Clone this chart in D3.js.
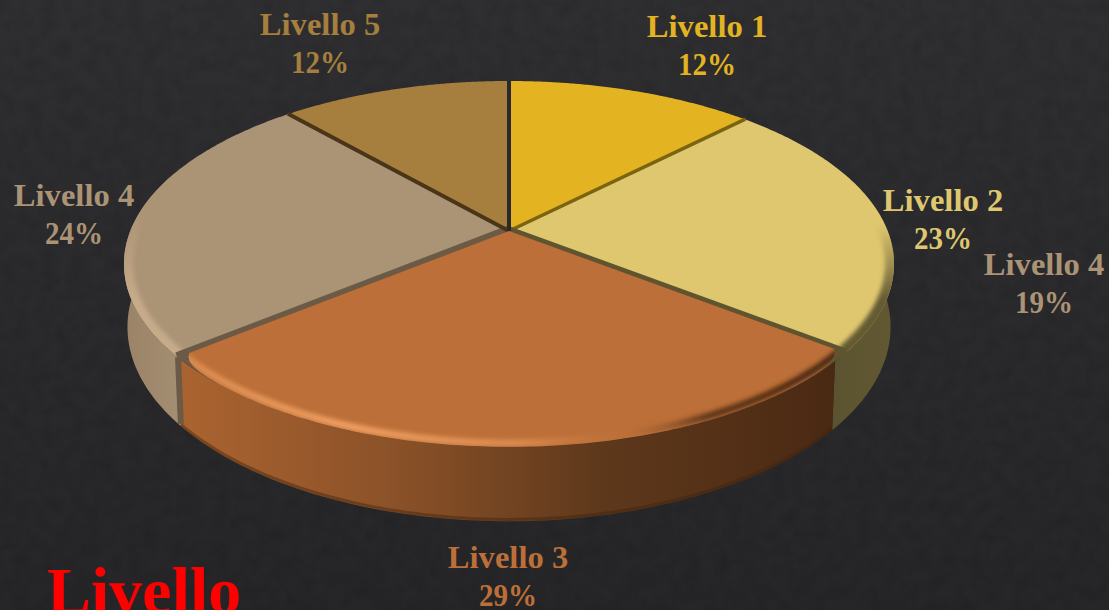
<!DOCTYPE html>
<html><head><meta charset="utf-8">
<script src="https://cdn.jsdelivr.net/npm/d3@7"></script>
<style>html,body{margin:0;padding:0;background:#2a2a2c;overflow:hidden}svg{display:block}
text{font-family:"Liberation Serif",serif;font-weight:bold}</style></head>
<body><svg id="c" width="1109" height="610"></svg>
<script>
// ---- data ----
const categories = ["Livello 1","Livello 2","Livello 3","Livello 4","Livello 5"];
const values = [12.4,23.1,28.6,24.4,11.5];
const colors = ["#E3B321","#DFC770","#BC6F38","#AB9375","#A67E3E"];
const extraLabel = "Livello 4";
const extraValue = 19;
const titleText = "Livello";

// ---- layout ----
const W=1109,H=610, cx=509, cy=231, Rx=378.7, Ky=177, persp=0.18, depth=61;
const svg=d3.select("#c");
const defs=svg.append("defs");
const project=(a,r=1,d=0)=>{
  const u=Math.sin(a)*r, v=-Math.cos(a)*r, s=1/(1-persp*v);
  const shrink=1-0.009*(d/depth);
  return [cx+Rx*u*s*shrink, cy+Ky*v*s+d*s];
};
const line=d3.line();
const rad=d=>d*Math.PI/180;
const arcs=d3.pie().sort(null).value(d=>d)(values);

// background
const bg=defs.append("linearGradient").attr("id","bg").attr("x1",0).attr("y1",0).attr("x2",0).attr("y2",1);
bg.append("stop").attr("offset",0).attr("stop-color","#2f2f32");
bg.append("stop").attr("offset",1).attr("stop-color","#262628");
const tx=defs.append("filter").attr("id","tex").attr("x",0).attr("y",0).attr("width","100%").attr("height","100%");
tx.append("feTurbulence").attr("type","fractalNoise").attr("baseFrequency",0.07).attr("numOctaves",4).attr("seed",4);
tx.append("feColorMatrix").attr("type","matrix").attr("values","0 0 0 0 0  0 0 0 0 0  0 0 0 0 0  0.9 0 0 0 -0.33");
svg.append("rect").attr("width",W).attr("height",H).attr("fill","url(#bg)");
svg.append("rect").attr("width",W).attr("height",H).attr("filter","url(#tex)").attr("opacity",0.2);

// gradients
const grad=(id,x1,y1,x2,y2,stops)=>{
  const g=defs.append("linearGradient").attr("id",id).attr("gradientUnits","userSpaceOnUse")
    .attr("x1",x1).attr("y1",y1).attr("x2",x2).attr("y2",y2);
  stops.forEach(s=>g.append("stop").attr("offset",s[0]).attr("stop-color",s[1]).attr("stop-opacity",s[2]===undefined?1:s[2]));
};
grad("wall2",830,0,893,0,[[0,"#5b5230"],[1,"#625933"]]);
grad("wall3",185,0,835,0,[[0,"#AA6330"],[0.33,"#8A5128"],[0.64,"#5E381B"],[1,"#4A2913"]]);
grad("wall4",125,0,188,0,[[0,"#9A8366"],[1,"#A69073"]]);
grad("rim2",0,225,0,300,[[0,"#5e5530",0],[1,"#5e5530",0.95]]);
grad("rim3",180,0,838,0,[[0,"#D98A4E"],[0.25,"#F09F62"],[0.52,"#D98A4E"],[0.68,"#BC6F38",0.3],[0.8,"#4A2913",0.8],[1,"#4A2913"]]);
grad("rim4",0,215,0,300,[[0,"#C6AB8A",0],[1,"#C6AB8A",1]]);
grad("under3",170,0,850,0,[[0,"#6B5A45"],[0.06,"#6B5A45"],[0.07,"#AA6330"],[0.9,"#4A2913"],[0.93,"#5E5530"],[1,"#5E5530"]]);
const blur=defs.append("filter").attr("id","soft").attr("x","-10%").attr("y","-10%").attr("width","120%").attr("height","120%");
blur.append("feGaussianBlur").attr("stdDeviation",2);

// side walls (front-facing part of the disc)
const wallFrom=rad(70), wallTo=rad(290);
const wallSeamShift=rad(2.7); // the wall seam on the right sits a little further round than the top corner
const wallFill={1:"url(#wall2)",2:"url(#wall3)",3:"url(#wall4)"};
const wallG=svg.append("g");
const wallRange={
  1:[Math.max(arcs[1].startAngle,wallFrom),arcs[1].endAngle+wallSeamShift],
  2:[arcs[2].startAngle+wallSeamShift,arcs[2].endAngle],
  3:[arcs[3].startAngle,wallTo]};
[3,1,2].forEach(i=>{
  const [a0,a1]=wallRange[i];
  const as=d3.range(0,61).map(k=>a0+(a1-a0)*k/60);
  const pts=as.map(a=>project(a)).concat(as.slice().reverse().map(a=>project(a,1,depth)));
  wallG.append("path").attr("d",line(pts)+"Z").attr("fill",wallFill[i]);
});
// darker lower lip of the wall
const lipAngles=d3.range(0,121).map(k=>wallRange[2][0]+(wallRange[2][1]-wallRange[2][0])*k/120);
wallG.append("path").attr("d",line(lipAngles.map(a=>project(a,1,depth-1.5)))).attr("fill","none")
  .attr("stroke","#3f2410").attr("stroke-opacity",.45).attr("stroke-width",3);
// vertical strip between Livello 3 and Livello 4
const sa=arcs[2].endAngle;
wallG.append("path").attr("d",line([project(sa,1,0),project(sa,1,depth-2)])).attr("stroke","#6B5A45").attr("stroke-width",6).attr("fill","none");
const cornerR=a=>{
  const d=Math.min(Math.abs(a-arcs[2].startAngle),Math.abs(a-arcs[2].endAngle));
  return 1-0.03*Math.exp(-d/0.035);
};

// top faces
const slicePts=(d,i)=>{
  const as=d3.range(0,121).map(k=>d.startAngle+(d.endAngle-d.startAngle)*k/120);
  return [[cx,cy]].concat(as.map(a=>project(a,i===2?cornerR(a):1)));
};
const topG=svg.append("g");
arcs.forEach((d,i)=>{
  if(i===2) return;
  topG.append("path").attr("d",line(slicePts(d,i))+"Z").attr("fill",colors[i]);
  defs.append("clipPath").attr("id","clip"+i).append("path").attr("d",line(slicePts(d,i))+"Z");
});
defs.append("clipPath").attr("id","clip2").append("path").attr("d",line(slicePts(arcs[2],2))+"Z");
// bevelled rims
const rimStroke={1:"url(#rim2)",3:"url(#rim4)"};
const rimArc=(i,r)=>{
  const d=arcs[i];
  const as=d3.range(0,121).map(k=>d.startAngle+(d.endAngle-d.startAngle)*k/120);
  return line(as.map(a=>project(a,r)));
};
[1,3].forEach(i=>{
  topG.append("g").attr("clip-path","url(#clip"+i+")")
    .append("path").attr("d",rimArc(i,0.995)).attr("fill","none")
    .attr("stroke",rimStroke[i]).attr("stroke-width",14).attr("filter","url(#soft)");
});
// gaps between slices, drawn before the orange slice so that it sits over them
const gapColor=["#7A6410","#5E5530","#6B5A45","#4A3518","#2A2A2E"];
const gapWidth=[3.5,9,11,4,4];
arcs.forEach((d,i)=>{
  topG.append("path").attr("d",line([[cx,cy],project(d.endAngle,1.002)]))
    .attr("stroke",gapColor[i]).attr("stroke-width",gapWidth[i]).attr("fill","none");
});
// the orange slice: a full-radius underlay fills the rounded corners
const fullThird=d3.range(0,121).map(k=>arcs[2].startAngle+(arcs[2].endAngle-arcs[2].startAngle)*k/120);
topG.append("path").attr("d",line([[cx,cy]].concat(fullThird.map(a=>project(a))))+"Z").attr("fill","url(#under3)");
topG.append("path").attr("d",line(slicePts(arcs[2],2))+"Z").attr("fill",colors[2]);
topG.append("g").attr("clip-path","url(#clip2)")
  .append("path").attr("d",rimArc(2,0.985)).attr("fill","none")
  .attr("stroke","url(#rim3)").attr("stroke-width",7).attr("filter","url(#soft)");

// labels
const fmt=v=>Math.round(v)+"%";
const labelPos=[[707,37],[943,211],[508,568],[74,206],[320,35]];
const labels=categories.map((c,i)=>({name:c,pct:fmt(values[i]),color:colors[i],pos:labelPos[i]}));
labels.push({name:extraLabel,pct:extraValue+"%",color:colors[3],pos:[1044,275]});
const lg=svg.append("g").selectAll("g").data(labels).join("g")
  .attr("transform",d=>`translate(${d.pos[0]},${d.pos[1]})`).attr("fill",d=>d.color)
  .attr("text-anchor","middle").attr("font-size",32.6);
lg.append("text").text(d=>d.name);
lg.append("text").attr("y",38).attr("textLength",58).attr("lengthAdjust","spacingAndGlyphs").text(d=>d.pct);

svg.append("text").attr("x",47).attr("y",613).attr("font-size",66).attr("fill","#FF0000").text(titleText);
</script></body></html>
